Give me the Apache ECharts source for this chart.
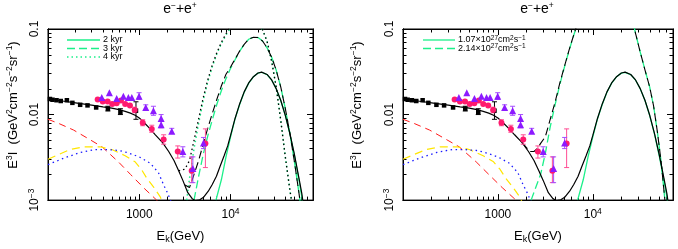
<!DOCTYPE html>
<html><head><meta charset="utf-8">
<script src="https://cdn.jsdelivr.net/npm/echarts@6/dist/echarts.min.js"></script>
<style>html,body{margin:0;padding:0;background:#fff}#c{width:678px;height:249px}</style>
</head><body><div id="c"></div>
<script>
// ---------------- data (E in GeV, E^3 I in GeV^2 cm^-2 s^-1 sr^-1) ----------------
const xMin = 100, xMaxLeft = 80000, xMaxRight = 70000;
const yMin = 0.001, yMax = 0.1;
const xLabelValues = [1000, 10000];
const xMajorTicks = [1000, 10000];
const xMinorTicks = [200,300,400,500,600,700,800,900,2000,3000,4000,5000,6000,7000,8000,9000,20000,30000,40000,50000,60000,70000];
const yLabelValues = [0.001, 0.01, 0.1];
const yMajorTicks = [0.01];
const yMinorTicks = [0.002,0.003,0.004,0.005,0.006,0.007,0.008,0.009,0.02,0.03,0.04,0.05,0.06,0.07,0.08,0.09];

const blackSquares = [[105,0.0152],[112,0.0149],[124,0.0147],[138,0.0144],[161,0.0147],[185,0.0137],[225,0.0130],[271,0.0128],[337,0.0121],[453,0.0117],[621,0.0107],[920,0.0111]];
const blackErr = [[453,0.0110,0.0125],[621,0.0100,0.0117],[920,0.0088,0.0141]];
const pinkCircles = [[350,0.0150],[398,0.0142],[450,0.0142],[505,0.0133],[565,0.0136],[630,0.0146],[700,0.0133],[790,0.0128],[890,0.0113],[1090,0.0080],[1370,0.0068],[1850,0.0051],[2640,0.0037],[3750,0.0022],[5300,0.0046]];
const pinkErr = [[890,0.0105,0.0122],[1090,0.0074,0.0087],[1370,0.0062,0.0075],[1850,0.0045,0.0058],[2640,0.0031,0.0043],[3750,0.0016,0.0032],[5300,0.0024,0.0068]];
const purpleTriangles = [[388,0.0158],[470,0.0180],[566,0.0154],[670,0.0164],[759,0.0158],[828,0.0158],[995,0.0164],[1178,0.0121],[1429,0.0111],[1734,0.0090],[1734,0.0076],[2270,0.0064],[3000,0.0037],[3865,0.00234],[5050,0.00465]];
const purpleErr = [[995,0.0150,0.0180],[1178,0.0113,0.0130],[1429,0.0098,0.0125],[1734,0.0070,0.0100],[2270,0.0060,0.0069],[3000,0.0032,0.0042],[3865,0.0016,0.0032],[5050,0.0040,0.0054]];

const redComp = [[100,0.0088],[130,0.0079],[190,0.0066],[270,0.0053],[390,0.0042],[590,0.0028],[800,0.0020],[1110,0.0014],[1550,0.00100],[1700,0.00090]];
const yellowComp = [[100,0.0030],[130,0.0034],[175,0.0039],[250,0.0042],[370,0.0042],[500,0.0039],[700,0.0033],[900,0.0028],[1050,0.0023],[1210,0.0018],[1450,0.0014],[1690,0.0011],[1800,0.00095]];
const blueComp = [[100,0.0026],[150,0.0031],[225,0.0036],[330,0.0039],[440,0.0039],[600,0.0038],[735,0.0036],[1000,0.0032],[1320,0.0027],[1620,0.0021],[1850,0.0015],[2050,0.0012],[2190,0.0010],[2300,0.0009]];

const totalSolid = [[100,0.0154],[120,0.0148],[150,0.0143],[200,0.0137],[300,0.0129],[400,0.0123],[500,0.0119],[600,0.0114],[700,0.0109],[800,0.0104],[900,0.0098],[1000,0.0091],[1100,0.0083],[1300,0.0069],[1500,0.0058],[1800,0.0047],[2100,0.0037],[2400,0.0029],[2700,0.0022],[3000,0.0017],[3400,0.00122],[3800,0.00104],[4100,0.00099],[4600,0.00101],[5100,0.00109],[5700,0.00127],[6300,0.00152],[7000,0.0019],[7700,0.0025],[8500,0.0033],[9300,0.0043],[10000,0.0057],[11200,0.0090],[12600,0.0134],[14100,0.0184],[15800,0.0234],[17800,0.0277],[20000,0.0306],[21900,0.0313],[25100,0.0294],[28200,0.0254],[31600,0.0201],[35500,0.0146],[39800,0.0098],[44700,0.0060],[50100,0.0034],[56200,0.0018],[60300,0.0012],[63100,0.00085]];
const source2kyr = [[6920,0.00100],[7940,0.00174],[8910,0.0032],[10000,0.0055],[11200,0.0089],[12600,0.0132],[14100,0.0182],[15800,0.0233],[17800,0.0276],[20000,0.0305],[21900,0.0312],[25100,0.0293],[28200,0.0253],[31600,0.0200],[35500,0.0146],[39800,0.0097],[44700,0.0059],[50100,0.0033],[56200,0.0017],[60300,0.0011],[63100,0.00079]];
const source3kyr = [[3980,0.00100],[4470,0.0019],[5010,0.0034],[5620,0.0056],[6310,0.0087],[7080,0.0132],[7940,0.0191],[8910,0.0263],[10000,0.0347],[11200,0.0437],[12600,0.055],[14100,0.066],[15800,0.0759],[17800,0.080],[20000,0.0794],[22400,0.0724],[25100,0.0603],[28200,0.0468],[31600,0.0331],[35500,0.0209],[39800,0.0117],[44700,0.0060],[50100,0.0028],[56200,0.0012],[58900,0.00083]];
const total3kyr = [[3160,0.00150],[3550,0.00140],[3980,0.0020],[4470,0.0029],[5010,0.0045],[5620,0.0069],[6310,0.0103],[7080,0.0151],[7940,0.0217],[8910,0.0296],[10000,0.0360],[11200,0.0445],[12600,0.0555],[14100,0.066],[15800,0.076],[17800,0.080],[20000,0.0794],[22400,0.0724],[25100,0.0603],[28200,0.0468],[31600,0.0331],[35500,0.0209],[39800,0.0117],[44700,0.0060],[50100,0.0028],[56200,0.0012],[58900,0.00083]];
const source4kyr = [[3310,0.0010],[3550,0.0018],[3980,0.0040],[4470,0.0079],[5010,0.0145],[5620,0.024],[6310,0.0363],[7080,0.0513],[7940,0.0676],[8910,0.0851],[10000,0.102],[11200,0.120],[12600,0.135],[14100,0.141],[15800,0.141],[17800,0.132],[20000,0.115],[22400,0.098],[25100,0.072],[28200,0.042],[31600,0.021],[35500,0.0085],[39800,0.0032],[44700,0.0013],[46800,0.00095]];
const total4kyr = [[2700,0.0022],[3160,0.0023],[3550,0.0029],[3980,0.0050],[4470,0.0089],[5010,0.0156],[5620,0.0253],[6310,0.038],[7080,0.053],[7940,0.070],[8910,0.088],[10000,0.107],[11200,0.122],[12600,0.135],[14100,0.141],[15800,0.141],[17800,0.132],[20000,0.115],[22400,0.098],[25100,0.072],[28200,0.042],[31600,0.021],[35500,0.0085],[39800,0.0032],[44700,0.0013],[46800,0.00095]];
const sourceD214 = [[2240,0.0010],[2510,0.00141],[2820,0.0020],[3160,0.0035],[3550,0.0071],[3980,0.0126],[4470,0.0219],[5010,0.0355],[5620,0.056],[6310,0.085],[7080,0.126],[7940,0.178],[10000,0.33],[12600,0.47],[15800,0.50],[20000,0.38],[25100,0.158],[28200,0.089],[31600,0.0537],[35500,0.0331],[39800,0.0209],[43700,0.0126],[47900,0.0063],[52500,0.0028],[57500,0.0010],[60300,0.00063]];
const totalD214 = [[1800,0.0047],[2000,0.0041],[2200,0.0037],[2400,0.0037],[2600,0.0040],[2820,0.0046],[3160,0.0055],[3550,0.0087],[3980,0.0136],[4470,0.0228],[5010,0.0362],[5620,0.0566],[6310,0.086],[7080,0.127],[7940,0.18],[10000,0.33],[12600,0.47],[15800,0.50],[20000,0.38],[25100,0.158],[28200,0.089],[31600,0.0537],[35500,0.0331],[39800,0.0209],[43700,0.0126],[47900,0.0063],[52500,0.0028],[57500,0.0010],[60300,0.00063]];

const legendLeft = ['2 kyr', '3 kyr', '4 kyr'];
const legendRight = ['1.07×10{s|27}cm{s|2}s{s|−1}', '2.14×10{s|27}cm{s|2}s{s|−1}'];
const titleText = 'e{s|−}+e{s|+}';
const yTitle = 'E{s|3}I  (GeV{s|2}cm{s|−2}s{s|−2}sr{s|−1})';
const xTitle = 'E{k|k}(GeV)';

// ---------------- styling ----------------
const FONT = '"Liberation Sans", Arial, Helvetica, sans-serif';
const GREEN = '#1cf08a';
const RICH = {
  s: {fontSize: 8.5, lineHeight: 8, verticalAlign: 'top', fontFamily: FONT, color: '#000'},
  k: {fontSize: 9, lineHeight: 8, verticalAlign: 'bottom', fontFamily: FONT, color: '#000'}
};
const RICH_SMALL = {s: {fontSize: 6.5, lineHeight: 6, verticalAlign: 'top', fontFamily: FONT, fill: '#000', color: '#000'}};
const grids = [
  {left: 48, top: 29, width: 265, height: 179},
  {left: 403, top: 29, width: 270, height: 179}
];

function xAxes(g, max) {
  const minor = xMinorTicks.filter(v => v < max);
  const base = {type: 'log', logBase: 10, gridIndex: g, min: xMin, max: max, splitLine: {show: false}, axisLine: {show: true, lineStyle: {color: '#000', width: 1}}, silent: true};
  const tk = (vals, len) => ({show: true, inside: true, length: len, customValues: vals, lineStyle: {color: '#000', width: 1}});
  return [
    Object.assign({}, base, {position: 'bottom', axisTick: tk(xMajorTicks, 6),
      axisLabel: {customValues: xLabelValues, margin: 7, color: '#000', fontSize: 12, fontFamily: FONT, lineHeight: 16, rich: RICH,
        formatter: v => (Math.abs(v - 10000) < 1 ? '10{s|4}' : String(Math.round(v)))},
      name: xTitle, nameLocation: 'middle', nameGap: 27,
      nameTextStyle: {color: '#000', fontSize: 13, fontFamily: FONT, lineHeight: 16, rich: RICH}}),
    Object.assign({}, base, {position: 'bottom', axisTick: tk(minor, 3.5), axisLabel: {show: false}}),
    Object.assign({}, base, {position: 'top', axisTick: tk(xMajorTicks, 6), axisLabel: {show: false}}),
    Object.assign({}, base, {position: 'top', axisTick: tk(minor, 3.5), axisLabel: {show: false}})
  ];
}
function yAxes(g) {
  const base = {type: 'log', logBase: 10, gridIndex: g, min: yMin, max: yMax, splitLine: {show: false}, axisLine: {show: true, lineStyle: {color: '#000', width: 1}}, silent: true};
  const tk = (vals, len) => ({show: true, inside: true, length: len, customValues: vals, lineStyle: {color: '#000', width: 1}});
  return [
    Object.assign({}, base, {position: 'left', axisTick: tk(yMajorTicks, 6),
      axisLabel: {customValues: yLabelValues, rotate: 90, margin: 5, color: '#000', fontSize: 12, fontFamily: FONT, lineHeight: 16, rich: RICH,
        formatter: v => (v < 0.005 ? '10{s|−3}' : (v < 0.05 ? '0.01' : '0.1'))}}),
    Object.assign({}, base, {position: 'left', axisTick: tk(yMinorTicks, 3.5), axisLabel: {show: false}}),
    Object.assign({}, base, {position: 'right', axisTick: tk(yMajorTicks, 6), axisLabel: {show: false}}),
    Object.assign({}, base, {position: 'right', axisTick: tk(yMinorTicks, 3.5), axisLabel: {show: false}})
  ];
}

function line(name, data, color, type, width, g, z) {
  return {type: 'line', name: name, data: data, xAxisIndex: g * 4, yAxisIndex: g * 4, symbol: 'none', showSymbol: false,
    lineStyle: {color: color, type: type, width: width}, itemStyle: {color: color}, clip: true, silent: true, z: z};
}
function scatter(name, data, color, symbol, size, g) {
  return {type: 'scatter', name: name, data: data, xAxisIndex: g * 4, yAxisIndex: g * 4, symbol: symbol, symbolSize: size,
    itemStyle: {color: color, opacity: 1}, clip: true, silent: true, z: 10};
}
function errbars(name, data, color, g) {
  return {type: 'custom', name: name, data: data, xAxisIndex: g * 4, yAxisIndex: g * 4, silent: true, z: 9, clip: true,
    encode: {x: 0, y: [1, 2]},
    renderItem: function (params, api) {
      const x = api.value(0), lo = api.value(1), hi = api.value(2);
      const a = api.coord([x, lo]), b = api.coord([x, hi]);
      const w = 2.5, st = {stroke: color, lineWidth: 1};
      return {type: 'group', children: [
        {type: 'line', shape: {x1: a[0], y1: a[1], x2: b[0], y2: b[1]}, style: st},
        {type: 'line', shape: {x1: a[0] - w, y1: a[1], x2: a[0] + w, y2: a[1]}, style: st},
        {type: 'line', shape: {x1: b[0] - w, y1: b[1], x2: b[0] + w, y2: b[1]}, style: st}
      ]};
    }};
}
const DASH = [8, 4], DOT = [1.5, 3];
function common(g) {
  return [
    line('red', redComp, '#ff1a1a', [7, 5], 1, g, 2),
    line('yellow', yellowComp, '#ffe600', [8, 5], 1.2, g, 2),
    line('blue', blueComp, '#1a1aff', [1.5, 3.5], 1.3, g, 2),
    line('bg', totalSolid, '#000', 'solid', 1.2, g, 5),
    errbars('blackErr', blackErr, '#000', g),
    errbars('pinkErr', pinkErr, '#ff4d94', g),
    errbars('purpleErr', purpleErr, '#a64dff', g),
    scatter('sq', blackSquares, '#000', 'rect', 4.5, g),
    scatter('pink', pinkCircles, '#ff1a6e', 'circle', 6, g),
    scatter('purple', purpleTriangles, '#8c1aff', 'triangle', 7, g)
  ];
}

const series = [].concat(
  [line('2 kyr', source2kyr, GREEN, 'solid', 1.3, 0, 3),
   line('3 kyr', source3kyr, GREEN, DASH, 1.3, 0, 3),
   line('4 kyr', source4kyr, GREEN, DOT, 1.5, 0, 3),
   line('t3', total3kyr, '#000', DASH, 1.1, 0, 4),
   line('t4', total4kyr, '#000', DOT, 1.3, 0, 4)],
  common(0),
  [line('r1', source2kyr, GREEN, 'solid', 1.3, 1, 3),
   line('r2', sourceD214, GREEN, DASH, 1.3, 1, 3),
   line('tr2', totalD214, '#000', DASH, 1.1, 1, 4)],
  common(1)
);

// legend drawn as graphic keys
const legendStyles = [{dash: null, w: 1.3}, {dash: DASH, w: 1.3}, {dash: DOT, w: 1.5}];
const legendGraphics = [];
legendLeft.forEach((t, i) => {
  const y = 40 + 8.5 * i;
  legendGraphics.push({type: 'line', shape: {x1: 67, y1: y, x2: 100, y2: y}, style: {stroke: GREEN, lineWidth: legendStyles[i].w, lineDash: legendStyles[i].dash}});
  legendGraphics.push({type: 'text', x: 103, y: y, style: {text: t, fontSize: 9, fontFamily: FONT, fill: '#000', verticalAlign: 'middle'}});
});
legendRight.forEach((t, i) => {
  const y = 40 + 8.5 * i;
  legendGraphics.push({type: 'line', shape: {x1: 423, y1: y, x2: 455, y2: y}, style: {stroke: GREEN, lineWidth: legendStyles[i].w, lineDash: legendStyles[i].dash}});
  legendGraphics.push({type: 'text', x: 458, y: y, style: {text: t, rich: RICH_SMALL, fontSize: 9, fontFamily: FONT, fill: '#000', verticalAlign: 'middle', lineHeight: 11}});
});

const chart = echarts.init(document.getElementById('c'), null, {renderer: 'canvas'});
chart.setOption({
  animation: false,
  backgroundColor: '#fff',
  grid: grids.map(g => Object.assign({show: true, borderColor: '#000', borderWidth: 1, backgroundColor: 'transparent'}, g)),
  xAxis: [].concat(xAxes(0, xMaxLeft), xAxes(1, xMaxRight)),
  yAxis: [].concat(yAxes(0), yAxes(1)),
  graphic: [
    {type: 'text', x: 180, y: 9, style: {text: titleText, rich: RICH, fontSize: 14, fontFamily: FONT, fill: '#000', align: 'center', verticalAlign: 'middle', lineHeight: 16}},
    {type: 'text', x: 537, y: 9, style: {text: titleText, rich: RICH, fontSize: 14, fontFamily: FONT, fill: '#000', align: 'center', verticalAlign: 'middle', lineHeight: 16}},
    {type: 'text', x: 13, y: 105, rotation: Math.PI / 2, style: {text: yTitle, rich: RICH, fontSize: 13, fontFamily: FONT, fill: '#000', align: 'center', verticalAlign: 'middle', lineHeight: 16}},
    {type: 'text', x: 357, y: 105, rotation: Math.PI / 2, style: {text: yTitle, rich: RICH, fontSize: 13, fontFamily: FONT, fill: '#000', align: 'center', verticalAlign: 'middle', lineHeight: 16}}
  ].concat(legendGraphics),
  series: series
});
</script></body></html>
